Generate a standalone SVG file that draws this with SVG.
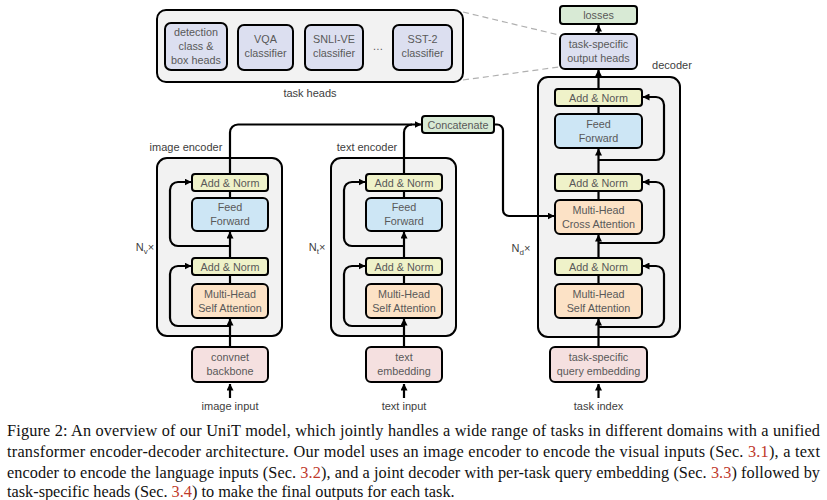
<svg xmlns="http://www.w3.org/2000/svg" width="827" height="500" viewBox="0 0 827 500">
<style>
.panel{fill:#f2f2f2;stroke:#000;stroke-width:2}
.box{stroke:#000;stroke-width:2}
.an{fill:#eff2c9}
.ff{fill:#cde6f5}
.att{fill:#fce2c6}
.emb{fill:#f5e0e0}
.lav{fill:#dcdff0}
.grn{fill:#d8ead5}
.t{font-family:"Liberation Sans",Arial,sans-serif;font-size:10.8px;fill:#595959;text-anchor:middle}
.lbl{font-family:"Liberation Sans",Arial,sans-serif;font-size:11px;fill:#404040;text-anchor:middle}
.c{fill:none;stroke:#000;stroke-width:2.2}
.cap{font-family:"Liberation Serif","Times New Roman",serif;font-size:16.3px;fill:#111}
.ref{fill:#c0392b}
</style>
<defs>
<marker id="ah" markerUnits="userSpaceOnUse" markerWidth="7" markerHeight="7" refX="6.5" refY="3.5" orient="auto">
<path d="M0,0 L7,3.5 L0,7 z" fill="#000"/>
</marker>
</defs>

<g id="task-heads">
<rect class="panel" x="157" y="10" width="306" height="72" rx="9"/>
<text class="lbl" x="310" y="97">task heads</text>
</g>
<g id="head-detection">
<rect class="box lav" x="165" y="23" width="62" height="47" rx="6"/>
<text class="t" x="196" y="36">detection</text>
<text class="t" x="196" y="50">class &amp;</text>
<text class="t" x="196" y="64">box heads</text>
</g>
<g id="head-vqa">
<rect class="box lav" x="238" y="25" width="55" height="45" rx="6"/>
<text class="t" x="265.5" y="43">VQA</text>
<text class="t" x="265.5" y="57">classifier</text>
</g>
<g id="head-snli">
<rect class="box lav" x="305" y="25" width="58" height="45" rx="6"/>
<text class="t" x="334" y="43">SNLI-VE</text>
<text class="t" x="334" y="57">classifier</text>
</g>
<text class="t" x="378" y="50">…</text>
<g id="head-sst2">
<rect class="box lav" x="393" y="25" width="59" height="45" rx="6"/>
<text class="t" x="422.5" y="43">SST-2</text>
<text class="t" x="422.5" y="57">classifier</text>
</g>

<g id="image-encoder">
<text class="lbl" x="186" y="151">image encoder</text>
<rect class="panel" x="157" y="158" width="125" height="178" rx="10"/>
<text class="lbl" x="145" y="251">N<tspan font-size="8" dy="3">v</tspan><tspan dy="-3">×</tspan></text>
</g>
<g id="img-addnorm1"><rect class="box an" x="192" y="174" width="76" height="17" rx="3"/><text class="t" x="230" y="186.5">Add &amp; Norm</text></g>
<g id="img-ff"><rect class="box ff" x="192" y="198" width="76" height="33" rx="5"/><text class="t" x="230" y="211">Feed</text><text class="t" x="230" y="225">Forward</text></g>
<g id="img-addnorm2"><rect class="box an" x="192" y="258" width="76" height="17" rx="3"/><text class="t" x="230" y="270.5">Add &amp; Norm</text></g>
<g id="img-sa"><rect class="box att" x="192" y="284" width="76" height="34" rx="5"/><text class="t" x="230" y="297.5">Multi-Head</text><text class="t" x="230" y="311.5">Self Attention</text></g>
<g id="convnet"><rect class="box emb" x="192" y="347" width="76" height="35" rx="5"/><text class="t" x="230" y="361">convnet</text><text class="t" x="230" y="375">backbone</text></g>
<text class="lbl" x="230" y="410">image input</text>

<g id="text-encoder">
<text class="lbl" x="367" y="151">text encoder</text>
<rect class="panel" x="331" y="158" width="125" height="178" rx="10"/>
<text class="lbl" x="317" y="251">N<tspan font-size="8" dy="3">t</tspan><tspan dy="-3">×</tspan></text>
</g>
<g id="txt-addnorm1"><rect class="box an" x="366" y="174" width="76" height="17" rx="3"/><text class="t" x="404" y="186.5">Add &amp; Norm</text></g>
<g id="txt-ff"><rect class="box ff" x="366" y="198" width="76" height="33" rx="5"/><text class="t" x="404" y="211">Feed</text><text class="t" x="404" y="225">Forward</text></g>
<g id="txt-addnorm2"><rect class="box an" x="366" y="258" width="76" height="17" rx="3"/><text class="t" x="404" y="270.5">Add &amp; Norm</text></g>
<g id="txt-sa"><rect class="box att" x="366" y="284" width="76" height="34" rx="5"/><text class="t" x="404" y="297.5">Multi-Head</text><text class="t" x="404" y="311.5">Self Attention</text></g>
<g id="text-embedding"><rect class="box emb" x="366" y="347" width="76" height="35" rx="5"/><text class="t" x="404" y="361">text</text><text class="t" x="404" y="375">embedding</text></g>
<text class="lbl" x="404" y="410">text input</text>

<g id="concatenate"><rect class="box grn" x="422" y="116" width="72" height="17" rx="3"/><text class="t" x="458" y="128.5">Concatenate</text></g>

<g id="decoder">
<text class="lbl" x="672" y="69">decoder</text>
<rect class="panel" x="538" y="77" width="142" height="260" rx="10"/>
<text class="lbl" x="521" y="252">N<tspan font-size="8" dy="3">d</tspan><tspan dy="-3">×</tspan></text>
</g>
<g id="dec-addnorm1"><rect class="box an" x="555" y="89" width="87" height="17" rx="3"/><text class="t" x="598.5" y="101.5">Add &amp; Norm</text></g>
<g id="dec-ff"><rect class="box ff" x="555" y="114" width="87" height="34" rx="5"/><text class="t" x="598.5" y="127.5">Feed</text><text class="t" x="598.5" y="141.5">Forward</text></g>
<g id="dec-addnorm2"><rect class="box an" x="555" y="174" width="87" height="17" rx="3"/><text class="t" x="598.5" y="186.5">Add &amp; Norm</text></g>
<g id="dec-ca"><rect class="box att" x="555" y="200" width="87" height="34" rx="5"/><text class="t" x="598.5" y="213.5">Multi-Head</text><text class="t" x="598.5" y="227.5">Cross Attention</text></g>
<g id="dec-addnorm3"><rect class="box an" x="555" y="258" width="87" height="17" rx="3"/><text class="t" x="598.5" y="270.5">Add &amp; Norm</text></g>
<g id="dec-sa"><rect class="box att" x="555" y="284" width="87" height="34" rx="5"/><text class="t" x="598.5" y="297.5">Multi-Head</text><text class="t" x="598.5" y="311.5">Self Attention</text></g>
<g id="query-embedding"><rect class="box emb" x="550" y="347" width="97" height="35" rx="5"/><text class="t" x="598.5" y="361">task-specific</text><text class="t" x="598.5" y="375">query embedding</text></g>
<text class="lbl" x="598.5" y="410">task index</text>
<g id="output-heads"><rect class="box lav" x="560" y="34" width="77" height="35" rx="5"/><text class="t" x="598.5" y="48">task-specific</text><text class="t" x="598.5" y="62">output heads</text></g>
<g id="losses"><rect class="box grn" x="560" y="6" width="77" height="18" rx="3"/><text class="t" x="598.5" y="19">losses</text></g>

<g id="connectors">
<path d="M463,12 L559,35" fill="none" stroke="#b0b0b0" stroke-width="1.2" stroke-dasharray="6,4"/>
<path d="M463,80 L559,67" fill="none" stroke="#b0b0b0" stroke-width="1.2" stroke-dasharray="6,4"/>
<path class="c" d="M230,398 V384" marker-end="url(#ah)"/>
<path class="c" d="M230,347 V319" marker-end="url(#ah)"/>
<path class="c" d="M230,284 V275"/>
<path class="c" d="M230,258 V232" marker-end="url(#ah)"/>
<path class="c" d="M230,198 V191"/>
<path class="c" d="M230,326 H178 A8,8 0 0 1 170,318 V274 A8,8 0 0 1 178,266 H191" marker-end="url(#ah)"/>
<path class="c" d="M230,246 H178 A8,8 0 0 1 170,238 V190 A8,8 0 0 1 178,182 H191" marker-end="url(#ah)"/>
<path class="c" d="M230,174 V132.5 A8,8 0 0 1 238,124.5 H421" marker-end="url(#ah)"/>
<path class="c" d="M404,398 V384" marker-end="url(#ah)"/>
<path class="c" d="M404,347 V319" marker-end="url(#ah)"/>
<path class="c" d="M404,284 V275"/>
<path class="c" d="M404,258 V232" marker-end="url(#ah)"/>
<path class="c" d="M404,198 V191"/>
<path class="c" d="M404,326 H352 A8,8 0 0 1 344,318 V274 A8,8 0 0 1 352,266 H365" marker-end="url(#ah)"/>
<path class="c" d="M404,246 H352 A8,8 0 0 1 344,238 V190 A8,8 0 0 1 352,182 H365" marker-end="url(#ah)"/>
<path class="c" d="M404,174 V132.5 A8,8 0 0 1 412,124.5"/>
<path class="c" d="M494,124.5 H497 A6,6 0 0 1 503,130.5 V210 A6,6 0 0 0 509,216 H554" marker-end="url(#ah)"/>
<path class="c" d="M598.5,398 V384" marker-end="url(#ah)"/>
<path class="c" d="M598.5,347 V319" marker-end="url(#ah)"/>
<path class="c" d="M598.5,284 V275"/>
<path class="c" d="M598.5,258 V235" marker-end="url(#ah)"/>
<path class="c" d="M598.5,200 V191"/>
<path class="c" d="M598.5,174 V149" marker-end="url(#ah)"/>
<path class="c" d="M598.5,114 V106"/>
<path class="c" d="M598.5,89 V70" marker-end="url(#ah)"/>
<path class="c" d="M598.5,34 V25" marker-end="url(#ah)"/>
<path class="c" d="M598.5,327 H656 A8,8 0 0 0 664,319 V274 A8,8 0 0 0 656,266 H643" marker-end="url(#ah)"/>
<path class="c" d="M598.5,243 H656 A8,8 0 0 0 664,235 V190 A8,8 0 0 0 656,182 H643" marker-end="url(#ah)"/>
<path class="c" d="M598.5,160 H656 A8,8 0 0 0 664,152 V105 A8,8 0 0 0 656,97 H643" marker-end="url(#ah)"/>
</g>

<g id="caption">
<text class="cap" x="7" y="436" textLength="813" lengthAdjust="spacing">Figure 2: An overview of our UniT model, which jointly handles a wide range of tasks in different domains with a unified</text>
<text class="cap" x="7" y="457" textLength="813" lengthAdjust="spacing">transformer encoder-decoder architecture.  Our model uses an image encoder to encode the visual inputs (Sec. <tspan class="ref">3.1</tspan>), a text</text>
<text class="cap" x="7" y="478" textLength="813" lengthAdjust="spacing">encoder to encode the language inputs (Sec. <tspan class="ref">3.2</tspan>), and a joint decoder with per-task query embedding (Sec. <tspan class="ref">3.3</tspan>) followed by</text>
<text class="cap" x="7" y="497">task-specific heads (Sec. <tspan class="ref">3.4</tspan>) to make the final outputs for each task.</text>
</g>
</svg>
